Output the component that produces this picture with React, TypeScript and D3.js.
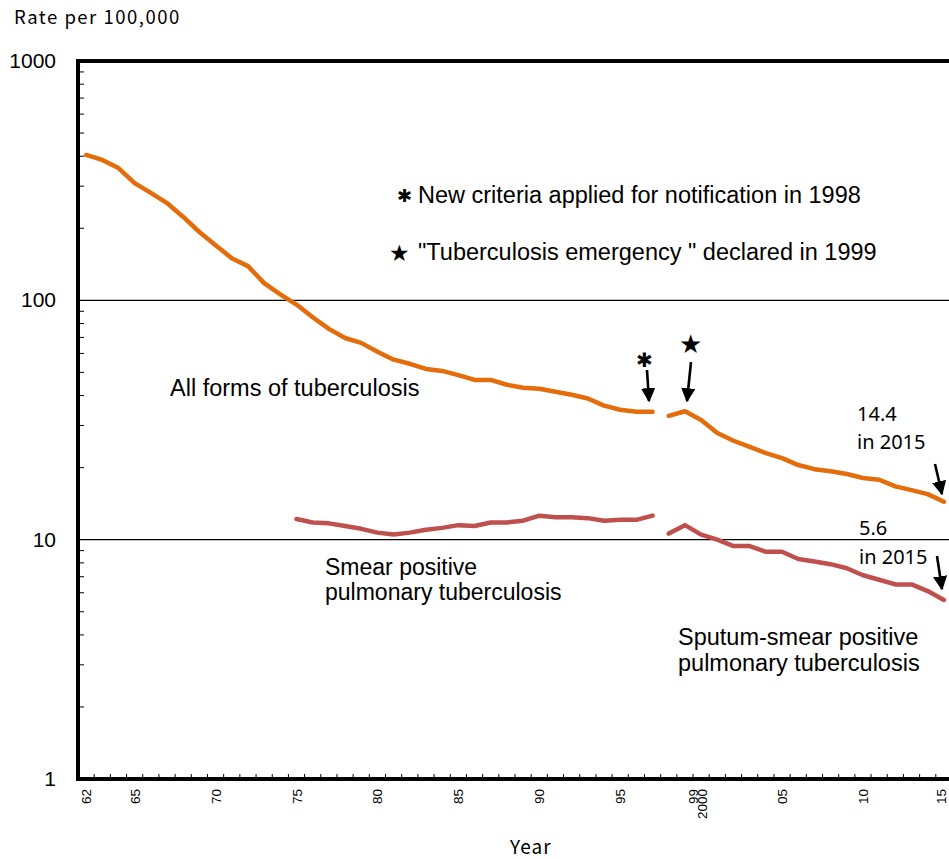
import React, { useEffect, useRef } from 'react';
import * as d3 from 'd3';

// rate per 100,000
const years = [1962, 1963, 1964, 1965, 1966, 1967, 1968, 1969, 1970, 1971, 1972, 1973, 1974, 1975, 1976, 1977, 1978, 1979, 1980, 1981, 1982, 1983, 1984, 1985, 1986, 1987, 1988, 1989, 1990, 1991, 1992, 1993, 1994, 1995, 1996, 1997, 1998, 1999, 2000, 2001, 2002, 2003, 2004, 2005, 2006, 2007, 2008, 2009, 2010, 2011, 2012, 2013, 2014, 2015];

const oldYears = [1962, 1963, 1964, 1965, 1966, 1967, 1968, 1969, 1970, 1971, 1972, 1973, 1974, 1975, 1976, 1977, 1978, 1979, 1980, 1981, 1982, 1983, 1984, 1985, 1986, 1987, 1988, 1989, 1990, 1991, 1992, 1993, 1994, 1995, 1996, 1997];
const allFormsOld = [405, 386, 357, 309, 281, 255, 223, 193, 170, 150, 139, 118, 106, 96, 85, 76, 69.6, 66.4, 61, 56.5, 54.3, 51.7, 50.7, 48.7, 46.5, 46.5, 44.4, 43.1, 42.7, 41.5, 40.3, 38.9, 36.3, 34.9, 34.2, 34.2];

const newYears = [1998, 1999, 2000, 2001, 2002, 2003, 2004, 2005, 2006, 2007, 2008, 2009, 2010, 2011, 2012, 2013, 2014, 2015];
const allFormsNew = [32.9, 34.4, 31.6, 27.9, 25.9, 24.4, 23.0, 21.9, 20.5, 19.7, 19.3, 18.8, 18.1, 17.8, 16.7, 16.1, 15.5, 14.4];

const smearYears = [1975, 1976, 1977, 1978, 1979, 1980, 1981, 1982, 1983, 1984, 1985, 1986, 1987, 1988, 1989, 1990, 1991, 1992, 1993, 1994, 1995, 1996, 1997];
const smearPositive = [12.2, 11.8, 11.7, 11.4, 11.1, 10.7, 10.5, 10.7, 11.0, 11.2, 11.5, 11.4, 11.8, 11.8, 12.0, 12.6, 12.4, 12.4, 12.3, 12.0, 12.1, 12.1, 12.6];
const sputumSmear = [10.6, 11.5, 10.5, 10.0, 9.4, 9.4, 8.9, 8.9, 8.3, 8.1, 7.9, 7.6, 7.1, 6.8, 6.5, 6.5, 6.1, 5.6];

const xLabels = [
  { year: 1962, text: ['62'] },
  { year: 1965, text: ['65'] },
  { year: 1970, text: ['70'] },
  { year: 1975, text: ['75'] },
  { year: 1980, text: ['80'] },
  { year: 1985, text: ['85'] },
  { year: 1990, text: ['90'] },
  { year: 1995, text: ['95'] },
  { year: 2000, text: ['99', '2000'] },
  { year: 2005, text: ['05'] },
  { year: 2010, text: ['10'] },
  { year: 2015, text: ['15'] },
];
const yLabels = [1, 10, 100, 1000];

const ORANGE = '#E46C0A';
const RED = '#C0504D';
const ARIAL = '"Liberation Sans", Arial, sans-serif';
const GOTHIC = '"Noto Sans CJK JP", sans-serif';
const SYM = '"DejaVu Sans", sans-serif';

function App() {
  const ref = useRef(null);

  useEffect(() => {
    const W = 949, H = 859;
    const left = 78, top = 61, bottom = 779;
    const svg = d3.select(ref.current)
      .append('svg')
      .attr('width', W)
      .attr('height', H)
      .style('display', 'block');

    const x = d3.scaleBand().domain(years.map(String)).range([left, 952]);
    const cx = (yr) => x(String(yr)) + x.bandwidth() / 2;
    const y = d3.scaleLog().domain([1, 1000]).range([bottom, top]);

    // gridlines at 10 and 100
    svg.selectAll('line.grid')
      .data([10, 100])
      .enter().append('line')
      .attr('x1', left).attr('x2', W)
      .attr('y1', d => y(d)).attr('y2', d => y(d))
      .attr('stroke', '#000').attr('stroke-width', 1.2);

    // minor y ticks
    const minor = [];
    [1, 10, 100].forEach(dec => { for (let k = 2; k <= 9; k++) minor.push(dec * k); });
    svg.selectAll('line.ytick')
      .data(minor)
      .enter().append('line')
      .attr('x1', left).attr('x2', left + 6)
      .attr('y1', d => y(d)).attr('y2', d => y(d))
      .attr('stroke', '#000').attr('stroke-width', 1);

    // x ticks between years
    svg.selectAll('line.xtick')
      .data(years.slice(1))
      .enter().append('line')
      .attr('x1', d => x(String(d))).attr('x2', d => x(String(d)))
      .attr('y1', bottom).attr('y2', bottom - 5)
      .attr('stroke', '#000').attr('stroke-width', 1);

    // frame
    svg.append('line').attr('x1', left).attr('x2', W).attr('y1', top).attr('y2', top)
      .attr('stroke', '#000').attr('stroke-width', 4);
    svg.append('line').attr('x1', left).attr('x2', W).attr('y1', bottom).attr('y2', bottom)
      .attr('stroke', '#000').attr('stroke-width', 4);
    svg.append('line').attr('x1', left).attr('x2', left).attr('y1', top - 2).attr('y2', bottom + 2)
      .attr('stroke', '#000').attr('stroke-width', 4);

    // y labels
    svg.selectAll('text.ylab')
      .data(yLabels)
      .enter().append('text')
      .attr('x', 56).attr('y', d => y(d) + 7)
      .attr('text-anchor', 'end')
      .style('font-family', ARIAL).style('font-size', '21px')
      .text(d => d);

    // x labels, rotated
    xLabels.forEach(l => {
      l.text.forEach((t, i) => {
        const n = l.text.length;
        let px = cx(l.year) + (i - (n - 1) / 2) * 9 + 5;
        if (n > 1) px -= 4;
        if (l.year === 2015) px = Math.min(px, 946);
        svg.append('text')
          .attr('transform', `translate(${px},789) rotate(-90)`)
          .attr('text-anchor', 'end')
          .style('font-family', ARIAL).style('font-size', '13.5px')
          .text(t);
      });
    });

    svg.append('text').attr('x', 14).attr('y', 24)
      .style('font-family', GOTHIC).style('font-size', '18.5px')
      .style('letter-spacing', '1.5px').text('Rate per 100,000');
    svg.append('text').attr('x', 510).attr('y', 854)
      .style('font-family', GOTHIC).style('font-size', '19px')
      .style('letter-spacing', '1px').text('Year');

    // lines
    const line = d3.line().x(d => cx(d[0])).y(d => y(d[1]));
    const series = [
      { yrs: oldYears, vals: allFormsOld, color: ORANGE },
      { yrs: newYears, vals: allFormsNew, color: ORANGE },
      { yrs: smearYears, vals: smearPositive, color: RED },
      { yrs: newYears, vals: sputumSmear, color: RED },
    ];
    series.forEach(s => {
      svg.append('path')
        .datum(s.yrs.map((yr, i) => [yr, s.vals[i]]))
        .attr('d', line)
        .attr('fill', 'none')
        .attr('stroke', s.color)
        .attr('stroke-width', 4.5)
        .attr('stroke-linejoin', 'round')
        .attr('stroke-linecap', 'round');
    });

    // arrows
    const defs = svg.append('defs');
    defs.append('marker')
      .attr('id', 'ah').attr('viewBox', '0 0 10 10')
      .attr('refX', 9).attr('refY', 5)
      .attr('markerWidth', 5.5).attr('markerHeight', 5.5)
      .attr('markerUnits', 'strokeWidth')
      .attr('orient', 'auto')
      .append('path').attr('d', 'M0,0 L10,5 L0,10 z').attr('fill', '#000');
    const arrows = [
      [647, 370, 649, 401],
      [691, 362, 687, 401],
      [935, 464, 942, 494],
      [937, 556, 942, 589],
    ];
    arrows.forEach(a => {
      svg.append('line')
        .attr('x1', a[0]).attr('y1', a[1]).attr('x2', a[2]).attr('y2', a[3])
        .attr('stroke', '#000').attr('stroke-width', 2.6)
        .attr('marker-end', 'url(#ah)');
    });

    const txt = (tx, ty, s, size, family = ARIAL) =>
      svg.append('text').attr('x', tx).attr('y', ty)
        .style('font-family', family).style('font-size', size).text(s);

    txt(636, 367, '✱', '20px', SYM);
    txt(679, 353, '★', '26px', SYM);
    txt(397, 202, '✱', '18px', SYM);
    txt(389, 261, '★', '23px', SYM);
    txt(418, 203, 'New criteria applied for notification in 1998', '23.5px');
    txt(418, 260, '"Tuberculosis emergency " declared in 1999', '23.5px');
    txt(170, 396, 'All forms of tuberculosis', '23.5px');
    txt(325, 575, 'Smear positive', '23px');
    txt(325, 600, 'pulmonary tuberculosis', '23px');
    txt(678, 645, 'Sputum-smear positive', '23.5px');
    txt(678, 671, 'pulmonary tuberculosis', '23.5px');
    txt(857, 421, '14.4', '20px', '"Noto Sans", sans-serif');
    txt(857, 449, 'in 2015', '20px', '"Noto Sans", sans-serif');
    txt(859, 535, '5.6', '20px', '"Noto Sans", sans-serif');
    txt(859, 564, 'in 2015', '20px', '"Noto Sans", sans-serif');

    const cur = ref.current;
    return () => { d3.select(cur).selectAll('*').remove(); };
  }, []);

  return <div ref={ref} style={{ position: 'absolute', left: 0, top: 0 }}></div>;
}

export default App;
